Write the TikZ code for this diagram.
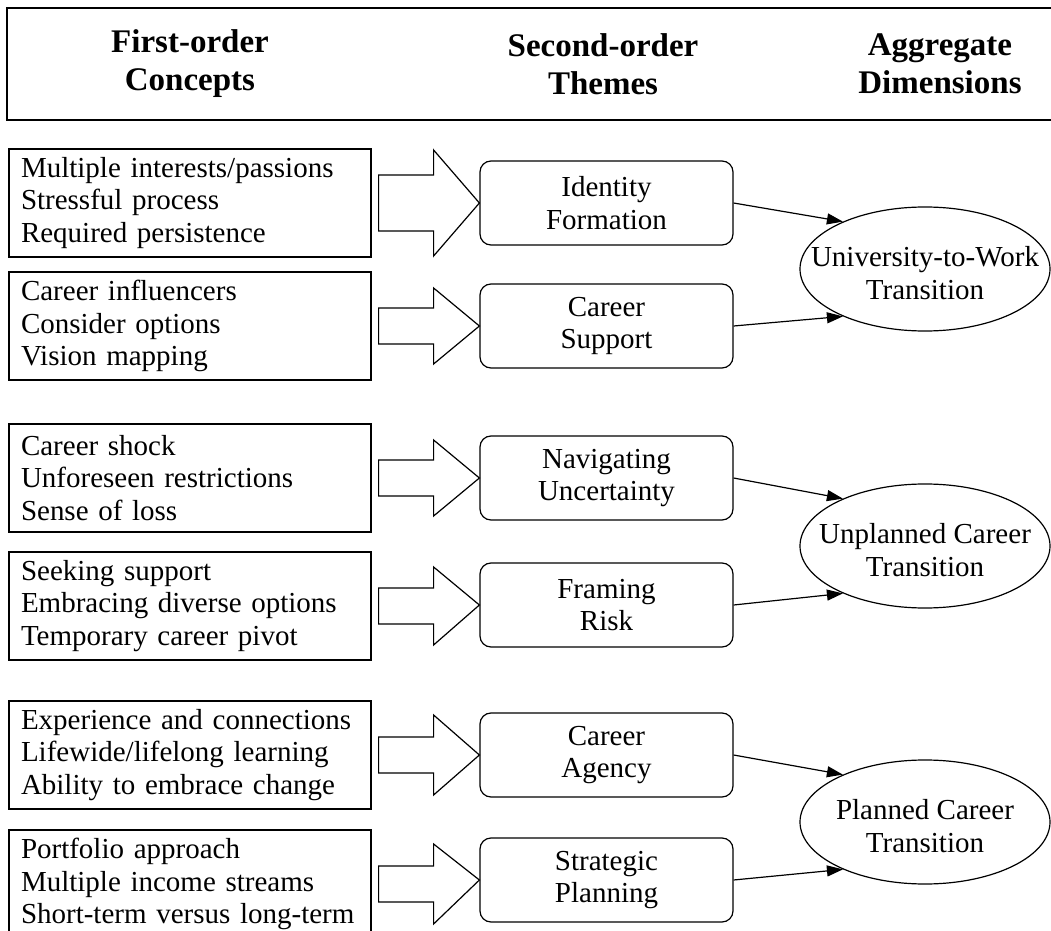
\documentclass[tikz,border=0pt]{standalone}
\usepackage{fontspec}
\setmainfont{Liberation Serif}
\usetikzlibrary{shapes.geometric,arrows.meta,calc}

\newcommand{\bodysize}{\fontsize{14.5}{16.25}\selectfont}
\newcommand{\headsize}{\fontsize{16.5}{19}\selectfont\bfseries}

\tikzset{
  outline/.style={draw, line width=0.6pt},
  concept/.style={outline, rectangle, text width=169pt, inner xsep=6pt, inner ysep=0pt, minimum height=54pt, align=left},
  theme/.style={outline, rectangle, rounded corners=5.5pt, minimum width=126.5pt, minimum height=42pt, align=center},
  dimension/.style={outline, ellipse, minimum width=125pt, minimum height=62pt, inner sep=0pt},
  dimtext/.style={align=center},
  head/.style={align=center, font=\headsize},
  link/.style={line width=0.6pt, -{Triangle[length=8pt,width=5.5pt]}},
}

% hollow block arrow from a concept box to its theme box
\newcommand{\fatarrow}[4]{%
  \draw[outline] ($(#1.east)+(7,-#3)$) -- ($(#1.east)+(62,-#3)$) -- ($(#1.east)+(62,-#4)$)
    -- (#2.west) -- ($(#1.east)+(62,#4)$) -- ($(#1.east)+(62,#3)$) -- ($(#1.east)+(7,#3)$) -- cycle;}

\begin{document}
\begin{tikzpicture}[x=0.5pt,y=-0.5pt,font=\bodysize]
    \useasboundingbox (0,0) rectangle (1051,931);
    \clip (0,0) rectangle (1051,931);
    % header
    \draw[line width=0.8pt] (7,8) rectangle (1080,120);
    \node[head] (hcon) at (190,64) {First-order\\Concepts};
    \node[head] (hthe) at (603,64) {Second-order\\Themes};
    \node[head] (hdim) at (940,64) {Aggregate\\Dimensions};

    % first-order concepts
    \node[concept] (c1) at (190,203) {Multiple interests/passions\\Stressful process\\Required persistence};
    \node[concept] (c2) at (190,326) {Career influencers\\Consider options\\Vision mapping};
    \node[concept] (c3) at (190,478) {Career shock\\Unforeseen restrictions\\Sense of loss};
    \node[concept] (c4) at (190,606) {Seeking support\\Embracing diverse options\\Temporary career pivot};
    \node[concept] (c5) at (190,755) {Experience and connections\\Lifewide/lifelong learning\\Ability to embrace change};
    \node[concept] (c6) at (190,884) {Portfolio approach\\Multiple income streams\\Short-term versus long-term};

    % second-order themes
    \node[theme] (t1) at (606.5,203) {Identity\\Formation};
    \node[theme] (t2) at (606.5,326) {Career\\Support};
    \node[theme] (t3) at (606.5,478) {Navigating\\Uncertainty};
    \node[theme] (t4) at (606.5,605) {Framing\\Risk};
    \node[theme] (t5) at (606.5,755) {Career\\Agency};
    \node[theme] (t6) at (606.5,880) {Strategic\\Planning};

    % aggregate dimensions
    \node[dimension] (d1) at (925,269) {};
    \node[dimtext] (d1t) at ([yshift=-2pt]d1.center) {University-to-Work\\Transition};
    \node[dimension] (d2) at (925,546) {};
    \node[dimtext] (d2t) at ([yshift=-2pt]d2.center) {Unplanned Career\\Transition};
    \node[dimension] (d3) at (925,822) {};
    \node[dimtext] (d3t) at ([yshift=-2pt]d3.center) {Planned Career\\Transition};

    % block arrows
    \fatarrow{c1}{t1}{28}{53}
    \fatarrow{c2}{t2}{18}{38}
    \fatarrow{c3}{t3}{18}{38}
    \fatarrow{c4}{t4}{18}{39}
    \fatarrow{c5}{t5}{18}{40}
    \fatarrow{c6}{t6}{18}{40}

    % links to dimensions
    \draw[link] (t1.east) -- (d1.150);
    \draw[link] (t2.east) -- (d1.210);
    \draw[link] (t3.east) -- (d2.150);
    \draw[link] (t4.east) -- (d2.210);
    \draw[link] (t5.east) -- (d3.150);
    \draw[link] (t6.east) -- (d3.210);
\end{tikzpicture}
\end{document}
